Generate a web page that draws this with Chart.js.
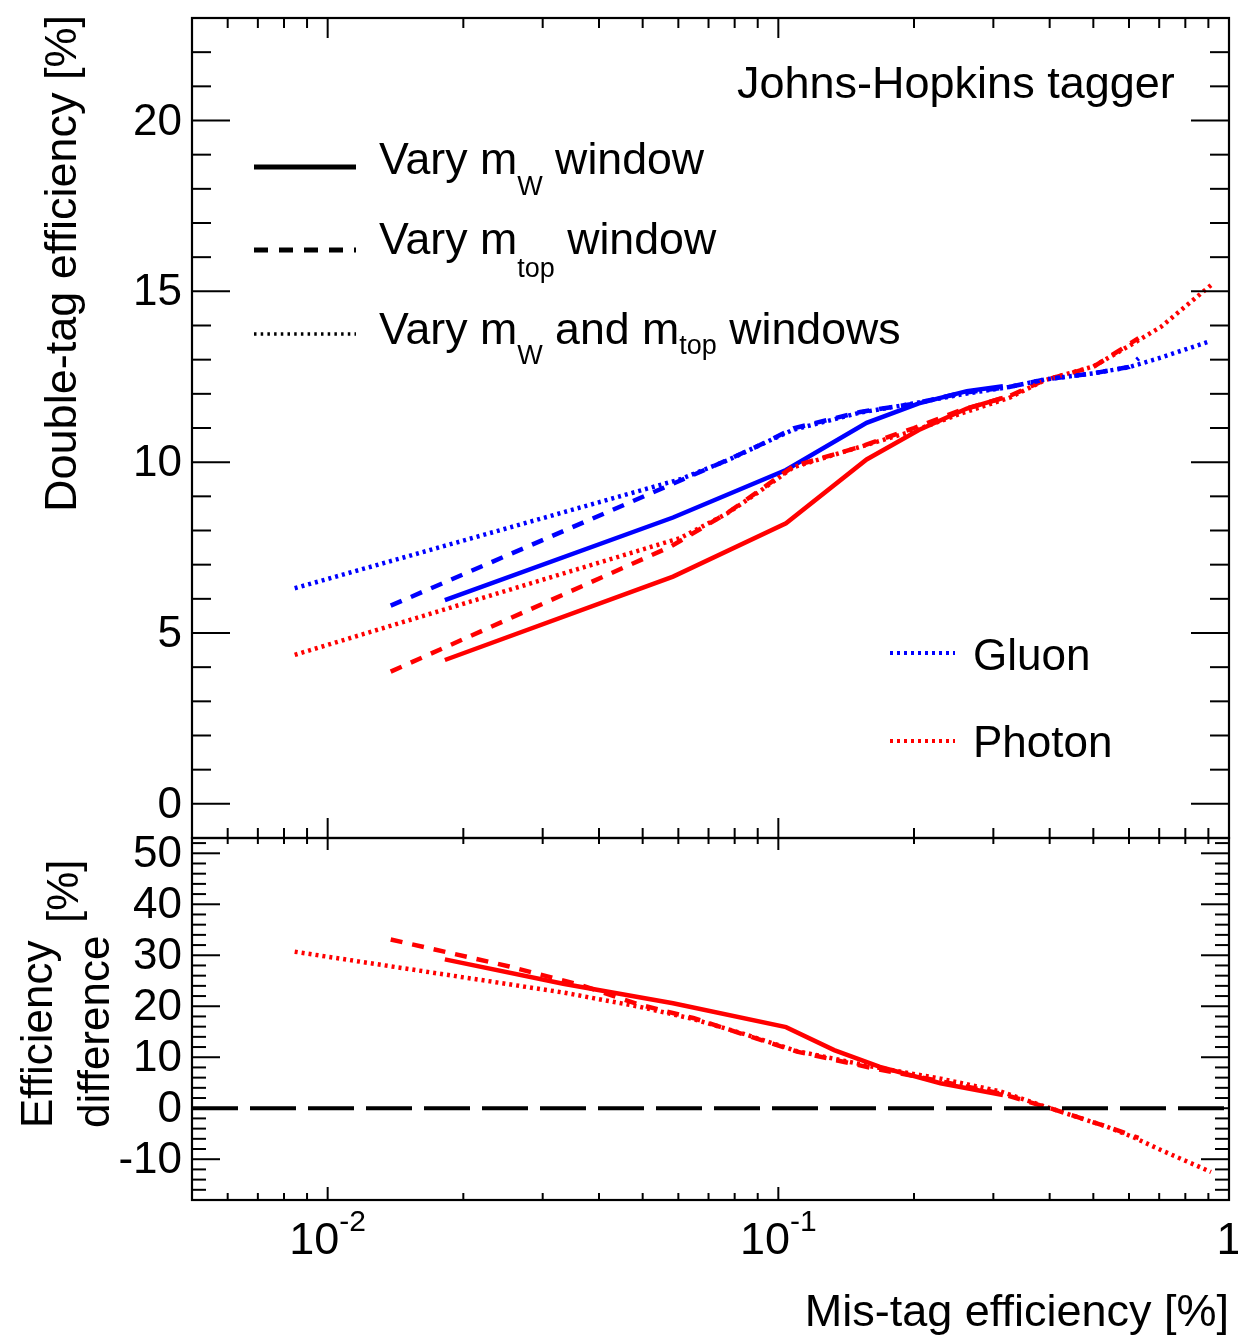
<!DOCTYPE html>
<html>
<head>
<meta charset="utf-8">
<script src="https://cdn.jsdelivr.net/npm/chart.js@4.4.1/dist/chart.umd.min.js"></script>
<style>
html, body { margin: 0; padding: 0; background: #ffffff; }
#wrap { position: relative; width: 1238px; height: 1336px; overflow: hidden; background: #ffffff; }
#wrap canvas { position: absolute; left: 0; top: 0; }
</style>
</head>
<body>
<div id="wrap">
  <canvas id="bottomPanel" width="1238" height="1336"></canvas>
  <canvas id="topPanel" width="1238" height="1336"></canvas>
</div>
<script>
// ---------------- data ----------------
// Mis-tag efficiency (x) of the working points of each scan, top panel
const xVaryMw   = [0.0182, 0.0584, 0.104, 0.157, 0.205, 0.262, 0.315];
const xVaryMtop = [0.0138, 0.0575, 0.077, 0.091, 0.108, 0.152, 0.200, 0.254, 0.325, 0.390, 0.500, 0.600, 0.630];
const xVaryBoth = [0.00845, 0.0606, 0.077, 0.091, 0.108, 0.152, 0.200, 0.254, 0.325, 0.390, 0.500, 0.600, 0.706, 0.912];

// Double-tag efficiency [%]
const gluonMw    = [5.96, 8.38, 9.77, 11.15, 11.72, 12.08, 12.22];
const photonMw   = [4.21, 6.65, 8.21, 10.08, 10.94, 11.57, 11.88];
const gluonMtop  = [5.80, 9.33, 10.06, 10.50, 10.99, 11.47, 11.71, 12.02, 12.20, 12.42, 12.60, 12.79, 13.04];
const photonMtop = [3.87, 7.52, 8.51, 9.18, 9.88, 10.45, 11.00, 11.52, 11.93, 12.40, 12.79, 13.45, 13.63];
const gluonBoth  = [6.31, 9.50, 10.05, 10.50, 10.95, 11.45, 11.72, 11.98, 12.20, 12.42, 12.60, 12.78, 13.06, 13.55];
const photonBoth = [4.36, 7.78, 8.50, 9.15, 9.85, 10.45, 10.92, 11.42, 11.88, 12.40, 12.80, 13.40, 13.96, 15.18];

// Efficiency difference [%], bottom panel
const xDiffMw   = [0.0182, 0.0333, 0.0584, 0.104, 0.133, 0.168, 0.229, 0.315];
const diffMw    = [29.2, 24.4, 20.6, 15.9, 11.4, 8.1, 4.9, 2.6];
const xDiffMtop = [0.0138, 0.0253, 0.036, 0.0492, 0.0647, 0.0823, 0.110, 0.163, 0.229, 0.311, 0.401, 0.535, 0.630];
const diffMtop  = [33.1, 27.8, 24.3, 20.3, 17.7, 14.7, 11.1, 7.8, 5.3, 2.9, 0.0, -3.6, -5.8];
const xDiffBoth = [0.00845, 0.0333, 0.0492, 0.0647, 0.0823, 0.110, 0.163, 0.229, 0.311, 0.401, 0.535, 0.614, 0.706, 0.912];
const diffBoth  = [30.7, 22.7, 19.9, 17.5, 14.8, 11.2, 8.1, 5.8, 3.3, 0.0, -3.6, -5.7, -8.2, -12.5];
const zeroLineX = [0.005, 1];
const zeroLineY = [0, 0];

// Axes and labels
const xRange = [0.005, 1];
const topYRange = [-1, 23];
const bottomYRange = [-18, 53];
const topYTicks = [0, 5, 10, 15, 20];
const bottomYTicks = [-10, 0, 10, 20, 30, 40, 50];
const xTickValues = [0.01, 0.1, 1];
const xTickBase = ['10', '10', '1'];
const xTickExp = ['-2', '-1', ''];
const xTitle = 'Mis-tag efficiency [%]';
const topYTitle = 'Double-tag efficiency [%]';
const bottomYTitleLines = ['Efficiency', 'difference'];
const bottomYTitleUnit = '[%]';
const taggerLabel = 'Johns-Hopkins tagger';
const sampleLabels = ['Gluon', 'Photon'];

// ---------------- styling ----------------
const FONT = '"Liberation Sans", Arial, Helvetica, sans-serif';
const BLUE = '#0000ff';
const RED = '#ff0000';
const SOLID = [];
const DASHED = [12, 10];
const DOTTED = [3, 4];

function pts(xs, ys) { return xs.map((x, i) => ({ x: x, y: ys[i] })); }
function ds(label, xs, ys, color, dash, width) {
  return { label: label, data: pts(xs, ys), borderColor: color, backgroundColor: color,
           borderWidth: width, borderDash: dash, borderCapStyle: 'butt', borderJoinStyle: 'miter',
           pointRadius: 0, tension: 0, fill: false };
}

function minorXTicks() {
  const out = [];
  [0.001, 0.01, 0.1].forEach(d => { for (let k = 2; k <= 9; k++) { const v = k * d; if (v > xRange[0] * 1.0001 && v < xRange[1] * 0.9999) out.push(v); } });
  return out;
}

function drawText(ctx, s, x, y, size, align) {
  ctx.font = size + 'px ' + FONT;
  ctx.textAlign = align || 'left';
  ctx.textBaseline = 'alphabetic';
  ctx.fillStyle = '#000';
  ctx.fillText(s, x, y);
  return ctx.measureText(s).width;
}

function drawAxesFrame(chart, o) {
  const ctx = chart.ctx, a = chart.chartArea, xs = chart.scales.x, ys = chart.scales.y;
  ctx.save();
  ctx.strokeStyle = '#000';
  ctx.setLineDash([]);
  ctx.lineWidth = 2;
  const seg = (x1, y1, x2, y2) => { ctx.beginPath(); ctx.moveTo(x1, y1); ctx.lineTo(x2, y2); ctx.stroke(); };
  // x ticks, bottom and top edges, drawn inward
  minorXTicks().forEach(v => { const p = xs.getPixelForValue(v); seg(p, a.bottom, p, a.bottom - o.xMinBot); seg(p, a.top, p, a.top + o.xMinTop); });
  xTickValues.forEach(v => { if (v >= xRange[1]) return; const p = xs.getPixelForValue(v); seg(p, a.bottom, p, a.bottom - o.xMajBot); seg(p, a.top, p, a.top + o.xMajTop); });
  // y ticks, left and right edges, drawn inward
  for (let v = Math.ceil(ys.min); v <= ys.max; v += o.yMinorStep) {
    if (v <= ys.min || v >= ys.max) continue;
    const major = o.yMajor.indexOf(v) >= 0;
    const len = major ? o.yMajLen : o.yMinLen;
    const p = ys.getPixelForValue(v);
    seg(a.left, p, a.left + len, p);
    seg(a.right, p, a.right - len, p);
  }
  ctx.lineWidth = 2.2;
  ctx.strokeRect(a.left, a.top, a.right - a.left, a.bottom - a.top);
  ctx.restore();
}

// ---------------- top panel ----------------
const topPlugin = {
  id: 'topDecor',
  afterDraw(chart) {
    drawAxesFrame(chart, { xMinBot: 10, xMajBot: 20, xMinTop: 10, xMajTop: 20, yMinorStep: 1, yMajor: topYTicks, yMajLen: 38, yMinLen: 19 });
    const ctx = chart.ctx;
    ctx.save();
    // y title
    ctx.save();
    ctx.translate(76, 15);
    ctx.rotate(-Math.PI / 2);
    drawText(ctx, topYTitle, 0, 0, 45, 'right');
    ctx.restore();
    // tagger label
    drawText(ctx, taggerLabel, 737, 98, 45, 'left');
    // style legend
    const leg = [
      { y: 167, dash: SOLID, w: 5, parts: [['Vary m', 0], ['W', 21], [' window', 0]] },
      { y: 250, dash: [14, 11], w: 5, parts: [['Vary m', 0], ['top', 23], [' window', 0]] },
      { y: 334, dash: [2.5, 4.2], w: 3.5, parts: [['Vary m', 0], ['W', 20], [' and m', 0], ['top', 10], [' windows', 0]] }
    ];
    const baseY = [173.5, 253.5, 343.5];
    leg.forEach((e, i) => {
      ctx.save();
      ctx.strokeStyle = '#000'; ctx.lineWidth = e.w; ctx.lineCap = 'butt'; ctx.setLineDash(e.dash);
      ctx.beginPath(); ctx.moveTo(254, e.y); ctx.lineTo(356, e.y); ctx.stroke();
      ctx.restore();
      let x = 379;
      e.parts.forEach(p => {
        if (p[1] === 0) x += drawText(ctx, p[0], x, baseY[i], 44.7, 'left');
        else x += drawText(ctx, p[0], x, baseY[i] + p[1], 27, 'left');
      });
    });
    // sample legend
    const sampleColors = [BLUE, RED];
    const sy = [653, 741];
    const ty = [670, 757];
    sampleLabels.forEach((s, i) => {
      ctx.save();
      ctx.strokeStyle = sampleColors[i]; ctx.lineWidth = 4; ctx.lineCap = 'butt'; ctx.setLineDash(DOTTED);
      ctx.beginPath(); ctx.moveTo(890, sy[i]); ctx.lineTo(955, sy[i]); ctx.stroke();
      ctx.restore();
      drawText(ctx, s, 973, ty[i], 44, 'left');
    });
    ctx.restore();
  }
};

const commonY = (range, ticks) => ({
  type: 'linear', position: 'left', min: range[0], max: range[1],
  afterFit(s) { s.width = 192; s.paddingTop = 0; s.paddingBottom = 0; },
  afterBuildTicks(s) { s.ticks = ticks.map(v => ({ value: v })); },
  grid: { display: false, drawTicks: false },
  border: { display: false },
  ticks: { autoSkip: false, padding: 10, labelOffset: 2, color: '#000', font: { family: FONT, size: 44 }, callback: v => String(v) }
});

new Chart(document.getElementById('topPanel'), {
  type: 'line',
  data: {
    datasets: [
      ds('Gluon, vary mW and mtop windows', xVaryBoth, gluonBoth, BLUE, DOTTED, 4.5),
      ds('Photon, vary mW and mtop windows', xVaryBoth, photonBoth, RED, DOTTED, 4.5),
      ds('Gluon, vary mtop window', xVaryMtop, gluonMtop, BLUE, DASHED, 4.5),
      ds('Photon, vary mtop window', xVaryMtop, photonMtop, RED, DASHED, 4.5),
      ds('Gluon, vary mW window', xVaryMw, gluonMw, BLUE, SOLID, 4.5),
      ds('Photon, vary mW window', xVaryMw, photonMw, RED, SOLID, 4.5)
    ]
  },
  options: {
    responsive: false, animation: false, devicePixelRatio: 1,
    layout: { padding: { left: 0, right: 9, top: 18, bottom: 498 } },
    plugins: { legend: { display: false }, tooltip: { enabled: false }, title: { display: false } },
    scales: {
      x: { type: 'logarithmic', min: xRange[0], max: xRange[1], display: false },
      y: commonY(topYRange, topYTicks)
    }
  },
  plugins: [topPlugin]
});

// ---------------- bottom panel ----------------
const bottomPlugin = {
  id: 'bottomDecor',
  afterDraw(chart) {
    drawAxesFrame(chart, { xMinBot: 7, xMajBot: 13, xMinTop: 6, xMajTop: 12, yMinorStep: 2, yMajor: bottomYTicks, yMajLen: 28, yMinLen: 14 });
    const ctx = chart.ctx, xs = chart.scales.x;
    ctx.save();
    // x tick labels with exponents
    xTickValues.forEach((v, i) => {
      const px = xs.getPixelForValue(v);
      ctx.font = '45px ' + FONT;
      const wb = ctx.measureText(xTickBase[i]).width;
      ctx.font = '30px ' + FONT;
      const we = xTickExp[i] ? ctx.measureText(xTickExp[i]).width : 0;
      const x0 = px - (wb + we) / 2;
      drawText(ctx, xTickBase[i], x0, 1254, 45, 'left');
      if (xTickExp[i]) drawText(ctx, xTickExp[i], x0 + wb, 1231, 30, 'left');
    });
    // x title
    drawText(ctx, xTitle, 1229, 1326, 45, 'right');
    // y title (two lines + unit)
    const lineX = [51.5, 109];
    bottomYTitleLines.forEach((s, i) => {
      ctx.save(); ctx.translate(lineX[i], 1128); ctx.rotate(-Math.PI / 2);
      drawText(ctx, s, 0, 0, 44, 'left'); ctx.restore();
    });
    ctx.save(); ctx.translate(77.5, 923); ctx.rotate(-Math.PI / 2);
    drawText(ctx, bottomYTitleUnit, 0, 0, 44, 'left'); ctx.restore();
    ctx.restore();
  }
};

new Chart(document.getElementById('bottomPanel'), {
  type: 'line',
  data: {
    datasets: [
      ds('zero', zeroLineX, zeroLineY, '#000000', [46, 12], 4),
      ds('Vary mW and mtop windows', xDiffBoth, diffBoth, RED, DOTTED, 4.5),
      ds('Vary mtop window', xDiffMtop, diffMtop, RED, DASHED, 4.5),
      ds('Vary mW window', xDiffMw, diffMw, RED, SOLID, 4.5)
    ]
  },
  options: {
    responsive: false, animation: false, devicePixelRatio: 1,
    layout: { padding: { left: 0, right: 9, top: 838, bottom: 136 } },
    plugins: { legend: { display: false }, tooltip: { enabled: false }, title: { display: false } },
    scales: {
      x: { type: 'logarithmic', min: xRange[0], max: xRange[1], display: false },
      y: commonY(bottomYRange, bottomYTicks)
    }
  },
  plugins: [bottomPlugin]
});
</script>
</body>
</html>
